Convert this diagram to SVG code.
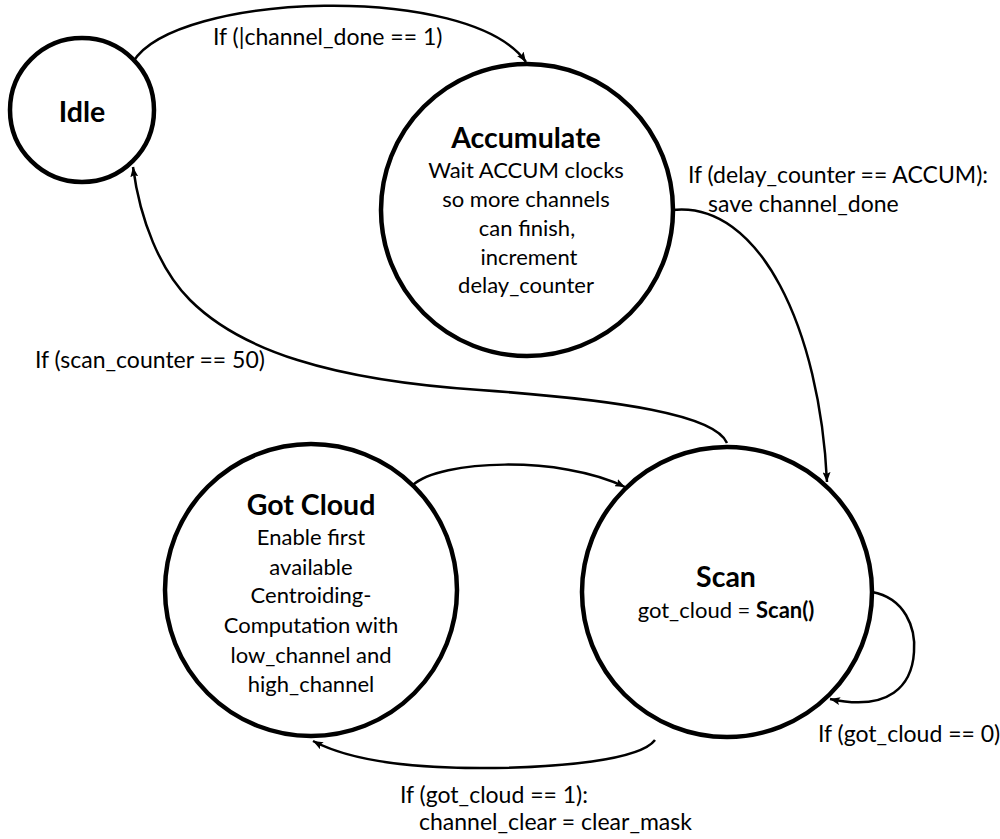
<svg xmlns="http://www.w3.org/2000/svg" width="1000" height="839" viewBox="0 0 1000 839">
  <style>
    .state { fill: #ffffff; stroke: #000000; stroke-width: 4.5; }
    .title { font-family: Lato, "Liberation Sans", sans-serif; font-weight: bold; font-size: 28.5px; text-anchor: middle; fill: #000; }
    .body { font-family: Lato, "Liberation Sans", sans-serif; font-size: 22px; text-anchor: middle; fill: #000; }
    .label { font-family: Lato, "Liberation Sans", sans-serif; font-size: 23px; fill: #000; }
    .edge { fill: none; stroke: #000000; stroke-width: 2.5; marker-end: url(#arrow); }
  </style>
  <defs>
    <marker id="arrow" viewBox="0 0 10 8" refX="10" refY="4" markerWidth="10" markerHeight="8" markerUnits="userSpaceOnUse" orient="auto">
      <path d="M0,0 L10,4 L0,8 L2,4 Z" fill="#000"/>
    </marker>
  </defs>

  <!-- transitions -->
  <g id="connectors">
    <path class="edge" d="M133,62 C175,-8 470,-18 526,62"/>
    <path class="edge" d="M672,210 C760,200 820,330 827,482"/>
    <path class="edge" d="M727,443 C715,415 620,400 480,390 C330,380 240,350 190,300 C160,270 140,220 133,167"/>
    <path class="edge" d="M413,485 C440,460 560,455 625,487"/>
    <path class="edge" d="M872,592 C905,598 916,628 914,652 C912,685 890,712 830,699"/>
    <path class="edge" d="M655,740 C640,760 560,768 480,768 C400,768 345,758 313,741"/>
  </g>

  <g id="idle">
    <circle class="state" cx="82" cy="110" r="72"/>
    <text class="title" x="82" y="122">Idle</text>
  </g>

  <g id="accumulate">
    <circle class="state" cx="527" cy="210" r="146"/>
    <text class="title" x="526" y="148">Accumulate</text>
    <text class="body" x="526" y="178">Wait ACCUM clocks</text>
    <text class="body" x="526" y="207">so more channels</text>
    <text class="body" x="527" y="236">can finish,</text>
    <text class="body" x="529" y="265">increment</text>
    <text class="body" x="526" y="293">delay_counter</text>
  </g>

  <g id="got-cloud">
    <circle class="state" cx="311" cy="590" r="146"/>
    <text class="title" x="311" y="515">Got Cloud</text>
    <text class="body" x="311" y="545">Enable first</text>
    <text class="body" x="311" y="575">available</text>
    <text class="body" x="311" y="603">Centroiding-</text>
    <text class="body" x="311" y="633">Computation with</text>
    <text class="body" x="311" y="663">low_channel and</text>
    <text class="body" x="311" y="692">high_channel</text>
  </g>

  <g id="scan">
    <circle class="state" cx="727" cy="592" r="145"/>
    <text class="title" x="726" y="587">Scan</text>
    <text class="body" x="726" y="618" font-size="23">got_cloud = <tspan font-weight="bold">Scan()</tspan></text>
  </g>

  <g id="labels">
    <text class="label" x="213" y="45">If (|channel_done == 1)</text>
    <text class="label" x="688" y="183">If (delay_counter == ACCUM):</text>
    <text class="label" x="708" y="212">save channel_done</text>
    <text class="label" x="35" y="368">If (scan_counter == 50)</text>
    <text class="label" x="818" y="742">If (got_cloud == 0)</text>
    <text class="label" x="400" y="803">If (got_cloud == 1):</text>
    <text class="label" x="419" y="830">channel_clear = clear_mask</text>
  </g>
</svg>
